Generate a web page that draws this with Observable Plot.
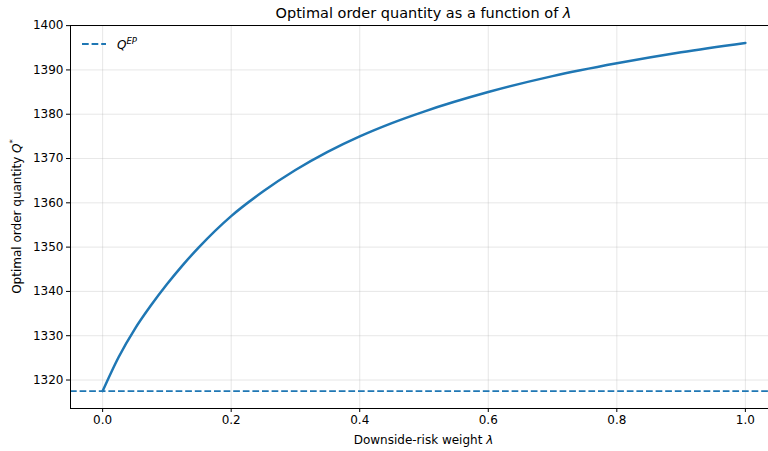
<!DOCTYPE html>
<html>
<head>
<meta charset="utf-8">
<script src="https://cdn.jsdelivr.net/npm/d3@7"></script>
<script src="https://cdn.jsdelivr.net/npm/@observablehq/plot@0.6"></script>
<style>
  html, body { margin: 0; padding: 0; background: #fff; overflow: hidden; width: 768px; height: 451px; }
  #chart { width: 768px; height: 451px; overflow: hidden; }
  #chart svg { max-width: none !important; width: 777px !important; height: 451px !important; font-family: "DejaVu Sans", sans-serif; }
</style>
</head>
<body>
<div id="chart"></div>
<script>
// Downside-risk weight λ
const lambdas = [0, 0.025, 0.05, 0.075, 0.1, 0.125, 0.15, 0.2, 0.25, 0.3, 0.35, 0.4, 0.45, 0.5, 0.6, 0.7, 0.8, 0.9, 1.0];
// Optimal order quantity Q*
const qStar = [1317.5, 1325.2, 1331.5, 1336.8, 1341.6, 1346.0, 1350.0, 1357.0, 1362.6, 1367.4, 1371.5, 1375.0, 1378.0, 1380.6, 1385.0, 1388.6, 1391.5, 1394.0, 1396.1];
// Q^EP reference level
const qEP = 1317.5;
const xTicks = [0, 0.2, 0.4, 0.6, 0.8, 1.0];
const yTicks = [1320, 1330, 1340, 1350, 1360, 1370, 1380, 1390, 1400];

const data = lambdas.map((l, i) => ({lambda: l, q: qStar[i]}));
const blue = "#1f77b4";

const plot = Plot.plot({
  width: 777,
  height: 451,
  marginLeft: 70,
  marginRight: 0,
  marginTop: 25,
  marginBottom: 43,
  style: {fontFamily: "DejaVu Sans, sans-serif", fontSize: "12px", color: "#000", background: "#fff", maxWidth: "none"},
  x: {domain: [-0.05, 1.05], ticks: xTicks, tickFormat: d3.format(".1f"), label: null},
  y: {domain: [1313.57, 1400.03], ticks: yTicks, tickFormat: d => String(d), label: null},
  marks: [
    Plot.gridX(xTicks, {stroke: "#b0b0b0", strokeOpacity: 0.3, strokeWidth: 1}),
    Plot.gridY(yTicks, {stroke: "#b0b0b0", strokeOpacity: 0.3, strokeWidth: 1}),
    Plot.ruleY([qEP], {stroke: blue, strokeWidth: 1.8, strokeDasharray: "6.7,2.9"}),
    Plot.line(data, {x: "lambda", y: "q", stroke: blue, strokeWidth: 2.5, curve: "monotone-x"}),
    Plot.frame({stroke: "#000", strokeWidth: 1}),
    Plot.axisX({ticks: xTicks, tickSize: 4, tickPadding: 3, fontSize: 12, tickFormat: d3.format(".1f"), label: null}),
    Plot.axisY({ticks: yTicks, tickSize: 4, tickPadding: 3, fontSize: 12, tickFormat: d => String(d), label: null})
  ]
});

const svg = d3.select(plot);
const cx = (70 + 777) / 2;

// Title
const title = svg.append("text").attr("x", cx).attr("y", 18).attr("text-anchor", "middle")
  .attr("font-size", 14.5).attr("fill", "#000");
title.append("tspan").text("Optimal order quantity as a function of ");
title.append("tspan").attr("font-style", "italic").text("λ");

// X label
const xl = svg.append("text").attr("x", cx).attr("y", 444).attr("text-anchor", "middle")
  .attr("font-size", 12).attr("fill", "#000");
xl.append("tspan").text("Downside-risk weight ");
xl.append("tspan").attr("font-style", "italic").text("λ");

// Y label
const yl = svg.append("text").attr("transform", `translate(21,${(25 + 408) / 2}) rotate(-90)`)
  .attr("text-anchor", "middle").attr("font-size", 12).attr("fill", "#000");
yl.append("tspan").text("Optimal order quantity ");
yl.append("tspan").attr("font-style", "italic").text("Q");
yl.append("tspan").attr("font-size", 8.5).attr("dy", -5).text("*");

// Legend
const lg = svg.append("g");
lg.append("line").attr("x1", 82).attr("x2", 106).attr("y1", 44).attr("y2", 44)
  .attr("stroke", blue).attr("stroke-width", 1.8).attr("stroke-dasharray", "6.7,2.9");
const lt = lg.append("text").attr("x", 117).attr("y", 48.5).attr("text-anchor", "start")
  .attr("font-size", 12).attr("fill", "#000");
lt.append("tspan").attr("font-style", "italic").text("Q");
lt.append("tspan").attr("font-style", "italic").attr("font-size", 8.5).attr("dy", -5).text("EP");

document.getElementById("chart").appendChild(plot);
</script>
</body>
</html>
